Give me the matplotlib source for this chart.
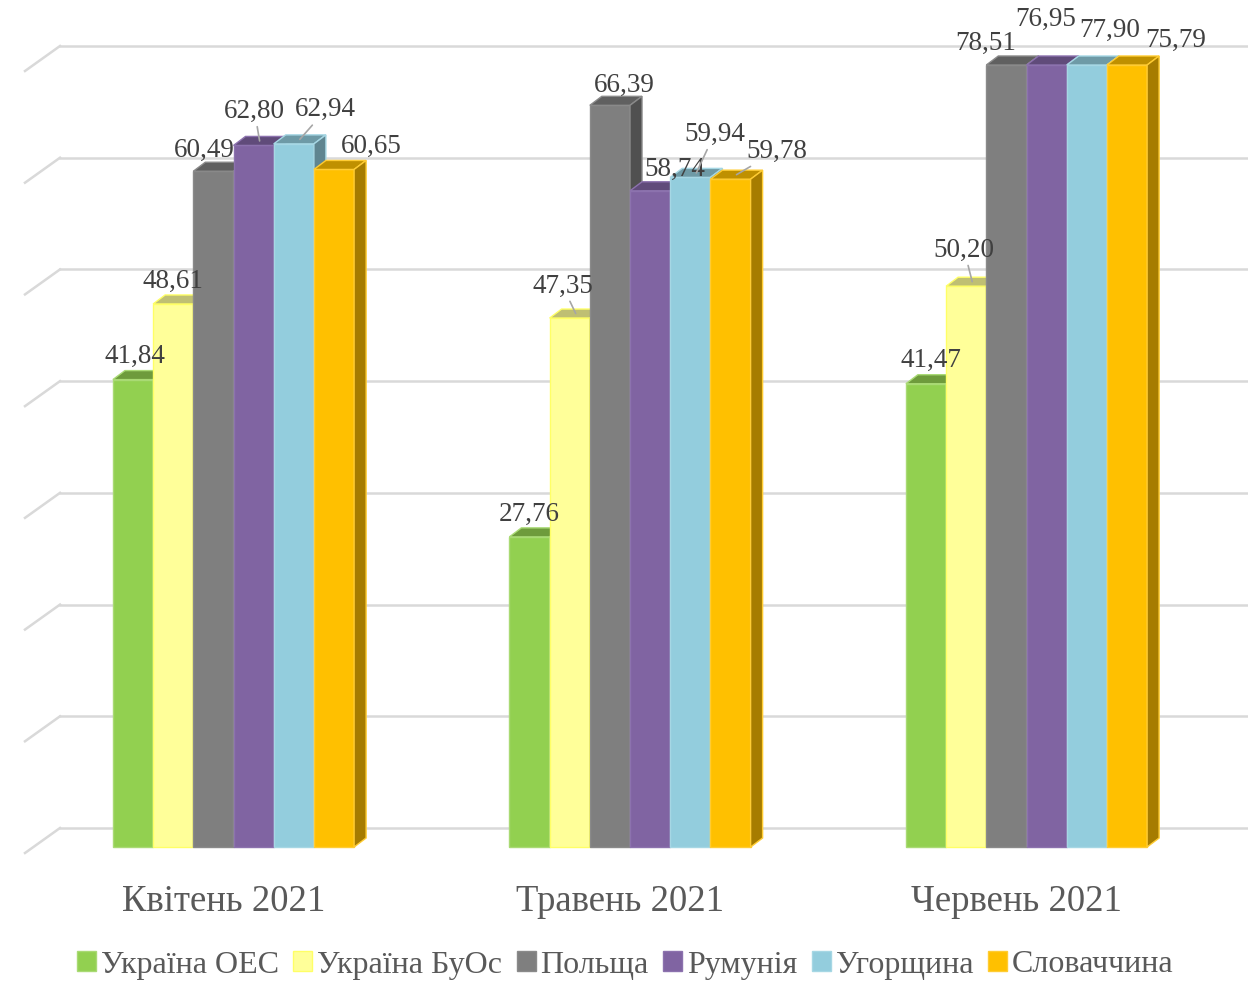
import numpy as np
import matplotlib
matplotlib.use("Agg")
import matplotlib.pyplot as plt
from matplotlib.patches import Polygon, Patch
from matplotlib.transforms import offset_copy

months = ["Квітень 2021", "Травень 2021", "Червень 2021"]
series = ["Україна ОЕС", "Україна БуОс", "Польща", "Румунія", "Угорщина", "Словаччина"]
ukraine_oes = [41.84, 27.76, 41.47]
ukraine_buos = [48.61, 47.35, 50.20]
poland = [60.49, 66.39, 78.51]
romania = [62.80, 58.74, 76.95]
hungary = [62.94, 59.94, 77.90]
slovakia = [60.65, 59.78, 75.79]
values = [ukraine_oes, ukraine_buos, poland, romania, hungary, slovakia]

# face colours: front, top, side, outline
front_c = ["#92D050", "#FFFF99", "#7F7F7F", "#8064A2", "#93CDDD", "#FFC000"]
top_c = ["#6E9B3C", "#BFBF73", "#606060", "#604B7A", "#6E9AA6", "#BF9000"]
side_c = ["#5B8232", "#A6A663", "#505050", "#54426A", "#5F8590", "#A67C00"]
edge_c = ["#A9DA74", "#FFFF66", "#8A8A8A", "#8C72AE", "#A6D7E4", "#FFCC33"]

# label placement (pixels from front-top centre of each bar) - month x series
label_dx = [[2, 0, -9, 1, 32, 37], [0, -7, 14, 25, 24, 46], [5, -2, -21, -1, 23, 49]]
label_dy = [[23, 23, 21, 34, 34, 23], [22, 32, 20, 21, 43, 28], [23, 36, 22, 46, 35, 25]]
leader = [[0, 0, 0, 1, 1, 0], [0, 1, 0, 0, 1, 1], [0, 1, 0, 0, 0, 0]]

plt.rcParams["font.family"] = ["Liberation Serif", "DejaVu Serif"]

W, H = 1248, 981
fig = plt.figure(figsize=(W / 100, H / 100), dpi=100)
ax = fig.add_axes([33 / W, 134 / H, (1221 - 33) / W, 782 / H])
ymax = 70
x0, x1 = -0.5057, 2.4905
ax.set_xlim(x0, x1)
ax.set_ylim(0, ymax)
ax.axis("off")

pp = ax.transData.transform([(0, 0), (1, 1)])
px_x = pp[1, 0] - pp[0, 0]
px_y = pp[1, 1] - pp[0, 1]
ddx, ddy = 12 / px_x, 9 / px_y

# back wall gridlines with floor diagonals
back = offset_copy(ax.transData, fig, x=27, y=19, units="dots")
for v in range(0, ymax + 1, 10):
    ax.plot([x0, x1], [v, v], color="#D9D9D9", lw=1.8, transform=back, clip_on=False, zorder=1)
    ax.plot([x0 - 8 / px_x, x0 + 27 / px_x], [v - 6 / px_y, v + 19 / px_y],
            color="#D9D9D9", lw=1.8, clip_on=False, zorder=1)

w = 40.2 / 396.5
z = 2
for i in range(len(months)):
    for j in range(len(series)):
        v = values[j][i]
        h = min(v, ymax)
        xl = i + (j - 3) * w
        xr = xl + w
        ax.add_patch(plt.Rectangle((xl, 0), w, h, facecolor=front_c[j], edgecolor=edge_c[j],
                                   lw=1, zorder=z, clip_on=False))
        ax.add_patch(Polygon([(xl, h), (xr, h), (xr + ddx, h + ddy), (xl + ddx, h + ddy)],
                             closed=True, facecolor=top_c[j], edgecolor=edge_c[j], lw=1,
                             zorder=z, clip_on=False))
        ax.add_patch(Polygon([(xr, 0), (xr + ddx, ddy), (xr + ddx, h + ddy), (xr, h)],
                             closed=True, facecolor=side_c[j], edgecolor=edge_c[j], lw=1,
                             zorder=z, clip_on=False))
        z += 0.01
        xc = xl + w / 2
        lbl = f"{v:.2f}".replace(".", ",")
        if leader[i][j]:
            ax.annotate(lbl, xy=(xc + ddx / 2, h + ddy / 2),
                        xytext=(label_dx[i][j] - 6, label_dy[i][j] - 4.5), textcoords="offset pixels",
                        ha="center", va="center", fontsize=19.5, color="#404040", zorder=10,
                        arrowprops=dict(arrowstyle="-", color="#A6A6A6", lw=1.2,
                                        shrinkA=0, shrinkB=0))
        else:
            ax.annotate(lbl, xy=(xc, h), xytext=(label_dx[i][j], label_dy[i][j]),
                        textcoords="offset pixels", ha="center", va="center",
                        fontsize=19.5, color="#404040", zorder=10)

for i, m in enumerate(months):
    ax.annotate(m, xy=(i, 0), xytext=(-10, -55), textcoords="offset pixels",
                ha="center", va="center", fontsize=26.5, color="#595959")

handles = [Patch(facecolor=front_c[j], edgecolor=edge_c[j], lw=1) for j in range(len(series))]
fig.legend(handles, series, loc="center", bbox_to_anchor=(625 / W, 1 - 965 / H), ncol=6,
           frameon=False, fontsize=23, handlelength=0.6, handleheight=0.6,
           handletextpad=0.15, columnspacing=0.45, labelcolor="#595959")

fig.savefig("out.png", dpi=100)
